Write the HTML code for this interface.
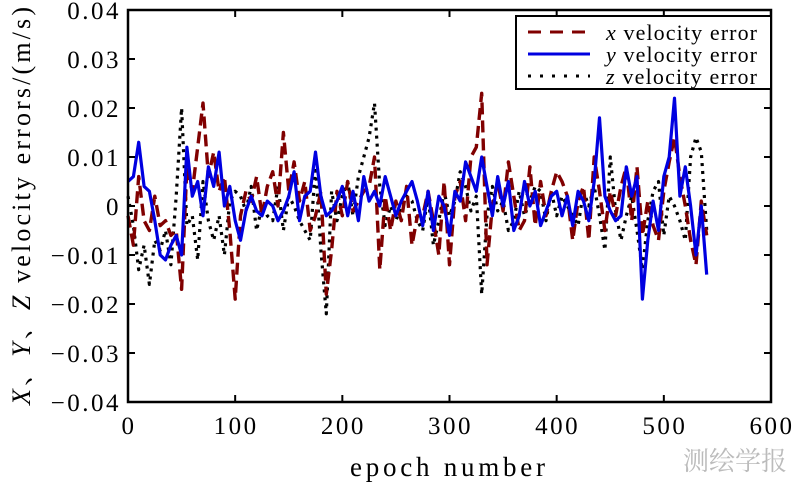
<!DOCTYPE html>
<html><head><meta charset="utf-8"><style>
body{margin:0;background:#fff;}
svg text{font-family:"Liberation Serif","Noto Serif CJK SC",serif;}
</style></head><body>
<svg id="chart" width="800" height="484" xmlns="http://www.w3.org/2000/svg">
<g id="plot"></g>
<text x="350" y="476" font-size="27" textLength="195" lengthAdjust="spacing">epoch number</text>
<text transform="translate(30,405) rotate(-90)" font-size="26" textLength="398" lengthAdjust="spacing"><tspan font-style="italic">X</tspan>、<tspan font-style="italic">Y</tspan>、<tspan font-style="italic">Z</tspan> velocity errors/(m/s)</text>
<g>
<rect x="516" y="16" width="255" height="73" fill="#fff" stroke="#000" stroke-width="2"/>
<line x1="528" y1="32" x2="590" y2="32" stroke="#800000" stroke-width="3" stroke-dasharray="13,9"/>
<text x="606" y="40" font-size="22" textLength="151" lengthAdjust="spacing"><tspan font-style="italic">x</tspan> velocity error</text>
<line x1="528" y1="54" x2="590" y2="54" stroke="#0000e0" stroke-width="3"/>
<text x="606" y="62" font-size="22" textLength="151" lengthAdjust="spacing"><tspan font-style="italic">y</tspan> velocity error</text>
<line x1="528" y1="76" x2="590" y2="76" stroke="#000" stroke-width="3" stroke-dasharray="3,9"/>
<text x="606" y="84" font-size="22" textLength="151" lengthAdjust="spacing"><tspan font-style="italic">z</tspan> velocity error</text>
</g>
<text x="735" y="470" font-size="26" fill="#bbb" text-anchor="middle">测绘学报</text>
</svg>
<script>
const xTicks=[0,100,200,300,400,500,600];
const yTicks=[0.04,0.03,0.02,0.01,0,-0.01,-0.02,-0.03,-0.04];
const yTickLabels=["0.04","0.03","0.02","0.01","0","\u22120.01","\u22120.02","\u22120.03","\u22120.04"];
const step=5;
const xErr=[-2,-8,6,-3,-5,2,-4,-3,-6,-5,-17,8,3,12,21,6,11,3,6,-5,-19,-2,3,1,6,-2,4,7,0,15,3,9,1,5,-5,-2,3,-18,-9,3,-2,5,-1,1,3,4,10,-13,2,-5,1,-3,4,-8,-2,-2,3,-3,-10,5,-12,2,5,-3,10,12,23,-12,0,5,-1,9,2,-5,-3,8,-4,5,-2,3,7,5,2,-7,1,4,-7,10,3,-5,3,-2,4,8,-3,8,-6,1,-4,-7,3,9,14,6,0,-7,-12,1,-6];
const yErr=[5,6,13,4,3,-3,-10,-11,-8,-6,-10,12,2,5,-2,8,4,11,0,4,-3,-7,-1,2,-1,-2,1,0,-3,-1,2,7,-3,2,3,11,2,-2,-1,1,4,-2,3,-3,6,1,3,0,6,2,-2,1,3,5,1,-4,3,-5,2,0,-6,3,1,9,6,3,10,4,-2,6,0,5,-5,-2,5,0,3,-4,-1,2,3,-2,2,-4,3,1,-3,5,18,2,-1,-3,-2,8,2,6,-19,-7,1,-5,6,10,22,2,8,0,-10,0,-14];
const zErr=[2,-4,-13,-8,-16,-7,-9,-5,-12,2,20,-4,-2,-11,5,-3,-7,-2,-10,1,3,2,-1,4,-5,0,-2,-3,4,-5,2,0,-3,-5,-7,8,-9,-22,3,-3,2,5,-2,6,10,14,21,4,-4,0,-3,0,2,1,-3,-5,2,-8,-3,3,-2,1,7,4,-1,2,-18,-2,4,-1,1,-5,-3,3,-2,1,4,3,-3,3,-2,2,0,-2,-4,3,0,4,-2,-9,10,-1,-7,-2,2,-5,-13,-3,3,5,-6,2,0,-3,-7,10,14,11,-5];
const L=128,R=771,T=10,B=402;
const xs=v=>L+(v/600)*(R-L);
const ys=v=>T+(0.04-v)/0.08*(B-T);
const NS="http://www.w3.org/2000/svg";
const g=document.getElementById('plot');
function mk(t,a){const e=document.createElementNS(NS,t);for(const k in a)e.setAttribute(k,a[k]);g.appendChild(e);return e;}
function series(arr,color,dash,name,w){
  const d=arr.map((v,i)=>(i?'L':'M')+xs(i*step).toFixed(1)+','+ys(v*0.001).toFixed(1)).join('');
  const p=mk('path',{d:d,fill:'none',stroke:color,'stroke-width':w,'stroke-dasharray':dash,'stroke-linejoin':'round'});
  
  
}
series(zErr,'#000','3,5','z-velocity-series',3.2);
series(xErr,'#800000','12,6','x-velocity-series',3.4);
series(yErr,'#0000e0','','y-velocity-series',3.2);
const frame=mk('rect',{x:L,y:T,width:R-L,height:B-T,fill:'none',stroke:'#000','stroke-width':2.5});


xTicks.forEach(v=>{
  const x=xs(v);
  mk('line',{x1:x,y1:B,x2:x,y2:B-7,stroke:'#000','stroke-width':2});
  mk('line',{x1:x,y1:T,x2:x,y2:T+7,stroke:'#000','stroke-width':2});
  const t=mk('text',{x:x+1,y:434,'font-size':25,'letter-spacing':2.5,'text-anchor':'middle'});
  t.textContent=String(v);
  
  
});
yTicks.forEach((v,i)=>{
  const y=ys(v);
  mk('line',{x1:L,y1:y,x2:L+7,y2:y,stroke:'#000','stroke-width':2});
  mk('line',{x1:R,y1:y,x2:R-7,y2:y,stroke:'#000','stroke-width':2});
  const t=mk('text',{x:121,y:y+9,'font-size':25,'letter-spacing':2.5,'text-anchor':'end'});
  t.textContent=yTickLabels[i];
  
  
});
</script>
</body></html>
